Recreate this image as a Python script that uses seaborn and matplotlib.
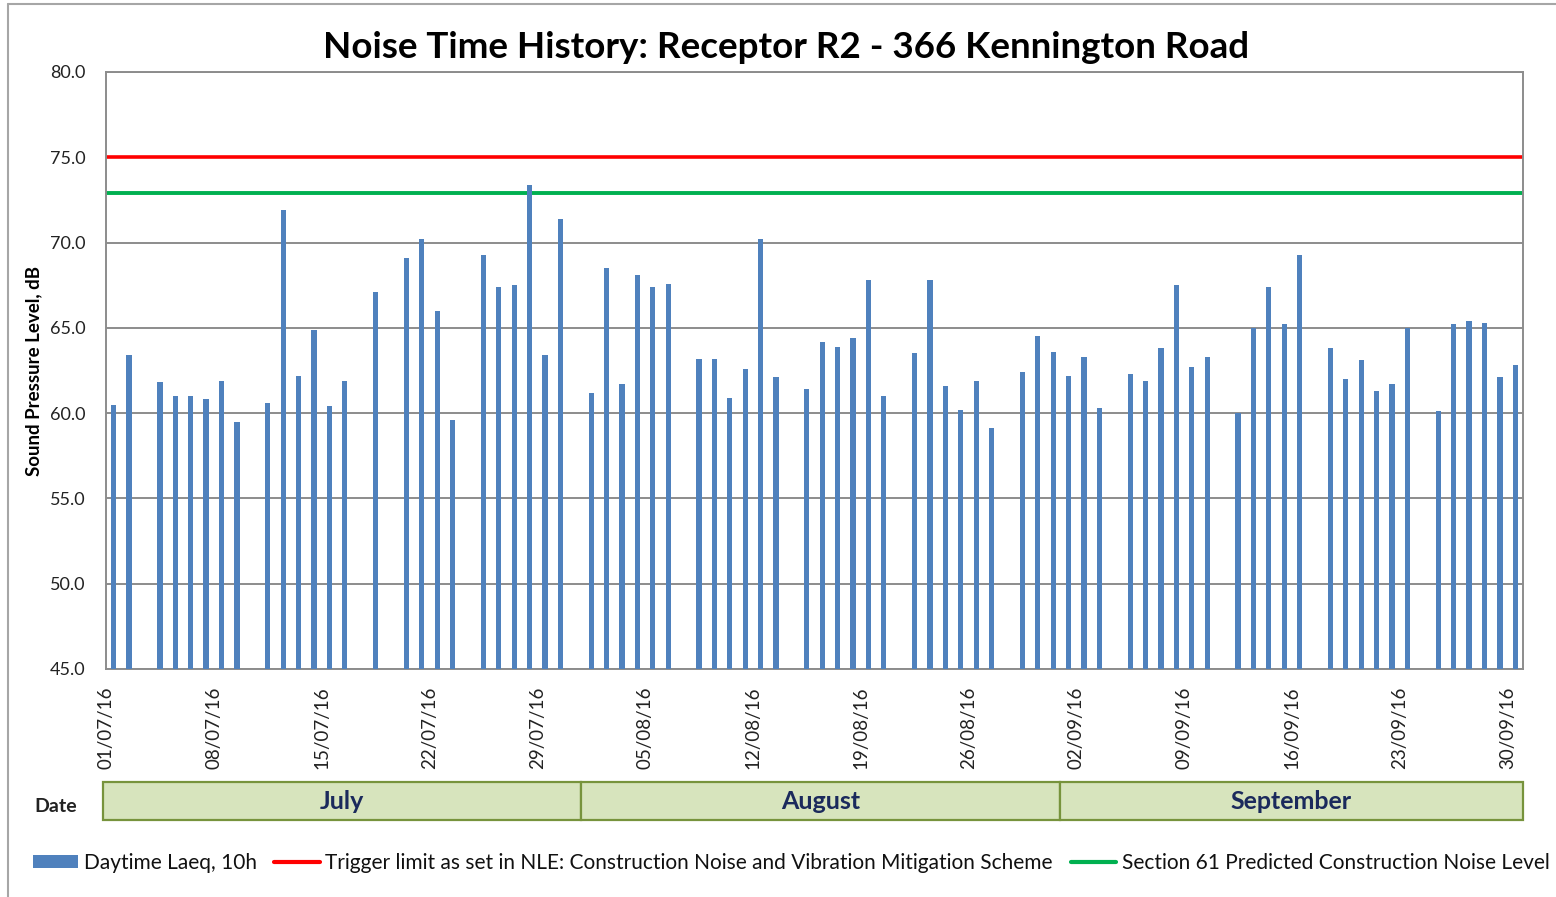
import numpy as np
import pandas as pd
import matplotlib
matplotlib.use("Agg")
import matplotlib.pyplot as plt
import seaborn as sns
from matplotlib.patches import Rectangle, Patch
from matplotlib.lines import Line2D

# ---------------- data ----------------
dates = [
    "01/07/16", "02/07/16", "04/07/16", "05/07/16", "06/07/16", "07/07/16", "08/07/16", "09/07/16",
    "11/07/16", "12/07/16", "13/07/16", "14/07/16", "15/07/16", "16/07/16", "18/07/16", "20/07/16",
    "21/07/16", "22/07/16", "23/07/16", "25/07/16", "26/07/16", "27/07/16", "28/07/16", "29/07/16",
    "30/07/16",
    "01/08/16", "02/08/16", "03/08/16", "04/08/16", "05/08/16", "06/08/16", "08/08/16", "09/08/16",
    "10/08/16", "11/08/16", "12/08/16", "13/08/16", "15/08/16", "16/08/16", "17/08/16", "18/08/16",
    "19/08/16", "20/08/16", "22/08/16", "23/08/16", "24/08/16", "25/08/16", "26/08/16", "27/08/16",
    "29/08/16", "30/08/16", "31/08/16",
    "01/09/16", "02/09/16", "03/09/16", "05/09/16", "06/09/16", "07/09/16", "08/09/16", "09/09/16",
    "10/09/16", "12/09/16", "13/09/16", "14/09/16", "15/09/16", "16/09/16", "18/09/16", "19/09/16",
    "20/09/16", "21/09/16", "22/09/16", "23/09/16", "25/09/16", "26/09/16", "27/09/16", "28/09/16",
    "29/09/16", "30/09/16",
]
laeq_10h = [
    60.5, 63.4, 61.8, 61.0, 61.0, 60.8, 61.9, 59.5,
    60.6, 71.9, 62.2, 64.9, 60.4, 61.9, 67.1, 69.1,
    70.2, 66.0, 59.6, 69.3, 67.4, 67.5, 73.4, 63.4,
    71.4,
    61.2, 68.5, 61.7, 68.1, 67.4, 67.6, 63.2, 63.2,
    60.9, 62.6, 70.2, 62.1, 61.4, 64.2, 63.9, 64.4,
    67.8, 61.0, 63.5, 67.8, 61.6, 60.2, 61.9, 59.1,
    62.4, 64.5, 63.6,
    62.2, 63.3, 60.3, 62.3, 61.9, 63.8, 67.5, 62.7,
    63.3, 60.0, 65.0, 67.4, 65.2, 69.3, 63.8, 62.0,
    63.1, 61.3, 61.7, 65.0, 60.1, 65.2, 65.4, 65.3,
    62.1, 62.8,
]
trigger_limit = 75.0
s61_level = 72.9
period_start = "01/07/16"
period_end = "30/09/16"
months = ["July", "August", "September"]
y_ticks = [45, 50, 55, 60, 65, 70, 75, 80]

title = "Noise Time History: Receptor R2 - 366 Kennington Road"
ylabel = "Sound Pressure Level, dB"
legend_labels = [
    "Daytime Laeq, 10h",
    "Trigger limit as set in NLE: Construction Noise and Vibration Mitigation Scheme",
    "Section 61 Predicted Construction Noise Level",
]

# ---------------- style ----------------
sns.set_theme(style="white")
plt.rcParams["font.family"] = ["Lato", "DejaVu Sans"]

BAR = "#4F81BD"
RED = "#FF0000"
GREEN = "#00B050"
GRID = "#8C8C8C"
NAVY = "#1B2A5C"

W, H = 1556, 897
fig = plt.figure(figsize=(W / 100, H / 100), dpi=100)

def fx(px):
    return px / W

def fy(py):
    return 1 - py / H

ax = fig.add_axes([fx(106), fy(669), fx(1523 - 106), (669 - 72) / H])

start = pd.to_datetime(period_start, format="%d/%m/%y")
end = pd.to_datetime(period_end, format="%d/%m/%y")
dt = pd.to_datetime(dates, format="%d/%m/%y")
df = pd.DataFrame({"day": (dt - start).days + 0.5, "laeq": laeq_10h})

sns.barplot(data=df, x="day", y="laeq", native_scale=True, width=0.34,
            color=BAR, saturation=1, errorbar=None, linewidth=0, ax=ax, zorder=3)

ax.axhline(trigger_limit, color=RED, lw=2.6, zorder=2)
ax.axhline(s61_level, color=GREEN, lw=2.8, zorder=2)

n_days = (end - start).days + 1
ax.set_xlim(0, n_days)
ax.set_ylim(min(y_ticks), max(y_ticks))
ax.set_yticks(y_ticks)
ax.set_yticklabels([f"{v:.1f}" for v in y_ticks], fontsize=13, color="#222222")

tick_dt = pd.date_range(start, end, freq="7D")
ax.set_xticks((tick_dt - start).days)
ax.set_xticklabels([d.strftime("%d/%m/%y") for d in tick_dt], rotation=90,
                   fontsize=13.5, color="#222222")
ax.set_xlabel("")
ax.set_ylabel(ylabel, fontsize=13.5, fontweight="bold", labelpad=6, color="black")

ax.yaxis.grid(True, color=GRID, lw=1.4)
ax.xaxis.grid(False)
ax.set_axisbelow(True)
for s in ax.spines.values():
    s.set_color(GRID)
    s.set_linewidth(1.4)
    s.set_visible(True)
ax.tick_params(axis="both", direction="out", length=6.5, width=1.2, color=GRID)
ax.tick_params(axis="x", pad=6)
ax.tick_params(axis="y", pad=8)

fig.text(fx(786), fy(47), title, ha="center", va="center",
         fontsize=26.5, fontweight="bold", color="black")

# ---------------- month band ----------------
band = fig.add_axes([fx(103), fy(820), fx(1523 - 103), 38 / H])
band.set_xlim(0, 1)
band.set_ylim(0, 1)
band.axis("off")
month_len = [pd.Period(f"2016-{m:02d}").days_in_month for m in (7, 8, 9)]
bounds = np.concatenate([[0], np.cumsum(month_len)]) / sum(month_len)
for i, m in enumerate(months):
    band.add_patch(Rectangle((bounds[i], 0), bounds[i + 1] - bounds[i], 1,
                             facecolor="#D7E4BD", edgecolor="#77933C", lw=1.6, clip_on=False))
    band.text((bounds[i] + bounds[i + 1]) / 2, 0.5, m, ha="center", va="center",
              fontsize=18, fontweight="bold", color=NAVY)

fig.text(fx(56), fy(806), "Date", ha="center", va="center", fontsize=14,
         fontweight="bold", color="#222222")

# ---------------- legend ----------------
handles = [Patch(facecolor=BAR, edgecolor="none"),
           Line2D([], [], color=RED, lw=3),
           Line2D([], [], color=GREEN, lw=3)]
fig.legend(handles, legend_labels, loc="center", bbox_to_anchor=(fx(791), fy(863)),
           ncol=3, frameon=False, fontsize=15, handlelength=2.2, handleheight=0.55,
           handletextpad=0.25, columnspacing=0.85, labelcolor="#111111")

# ---------------- outer frame ----------------
fig.add_artist(Line2D([fx(8), fx(8)], [fy(4), 0], color="#A6A6A6", lw=1.5))
fig.add_artist(Line2D([fx(8), 1], [fy(4), fy(4)], color="#A6A6A6", lw=1.5))

fig.savefig("out.png", dpi=100, facecolor="white")
